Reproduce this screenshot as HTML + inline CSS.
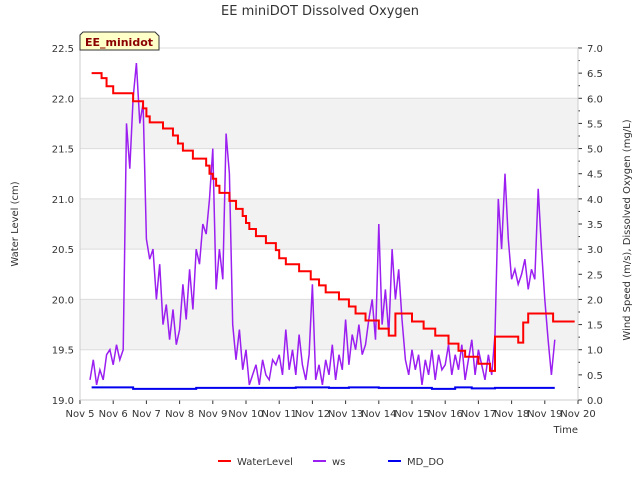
<!DOCTYPE html>
<html><head><meta charset="utf-8"><style>
body{margin:0;background:#fff;font-family:"Liberation Sans","DejaVu Sans",sans-serif}
svg text{font-family:"DejaVu Sans","Liberation Sans",sans-serif}
</style></head><body>
<svg id="c" width="640" height="480" xmlns="http://www.w3.org/2000/svg"></svg>
<script>
const wlT=[5.35,5.65,5.8,6.0,6.6,6.9,7.0,7.1,7.5,7.8,7.95,8.1,8.4,8.8,8.9,9.0,9.1,9.2,9.5,9.7,9.9,10.0,10.1,10.3,10.6,10.9,11.0,11.2,11.6,11.95,12.2,12.4,12.8,13.1,13.3,13.6,14.0,14.3,14.5,15.0,15.35,15.7,16.1,16.4,16.6,17.0,17.35,17.5,18.2,18.35,18.5,19.25,19.9];
const wlV=[22.25,22.2,22.12,22.05,21.97,21.9,21.82,21.76,21.7,21.63,21.55,21.48,21.4,21.33,21.25,21.2,21.13,21.06,20.98,20.9,20.83,20.76,20.7,20.63,20.56,20.49,20.41,20.35,20.28,20.2,20.14,20.07,20.0,19.93,19.86,19.79,19.71,19.64,19.86,19.78,19.71,19.64,19.56,19.49,19.43,19.36,19.29,19.63,19.57,19.77,19.86,19.78,19.78];
const wsStart=5.3, wsStep=0.1;
const wsV=[0.4,0.8,0.3,0.6,0.4,0.9,1.0,0.7,1.1,0.8,
1.0,5.5,4.6,6.0,6.7,5.5,5.9,3.2,2.8,3.0,
2.0,2.7,1.5,1.9,1.2,1.8,1.1,1.4,2.3,1.6,
2.6,1.8,3.0,2.7,3.5,3.3,4.0,5.0,2.2,3.0,
2.4,5.3,4.5,1.5,0.8,1.4,0.6,1.0,0.3,0.5,
0.7,0.3,0.8,0.5,0.4,0.8,0.7,0.9,0.5,1.4,
0.6,1.0,0.5,1.3,0.7,0.4,0.9,2.3,0.4,0.7,
0.3,0.8,0.5,1.1,0.4,0.9,0.6,1.6,0.7,1.3,
1.0,1.5,0.9,1.1,1.6,2.0,1.2,3.5,1.5,2.2,
1.3,3.0,2.0,2.6,1.6,0.8,0.5,1.0,0.6,0.9,
0.3,0.8,0.5,1.0,0.4,0.9,0.6,0.7,1.1,0.5,
0.9,0.6,1.1,0.4,0.8,1.2,0.5,1.0,0.7,0.4,
0.9,0.5,1.3,4.0,3.0,4.5,3.2,2.4,2.6,2.3,
2.5,2.8,2.2,2.6,2.4,4.2,3.0,2.0,1.2,0.5,1.2];
const doT=[5.35,6.6,8.5,11.5,12.5,13.1,14.0,15.6,16.3,16.8,17.5,19.3];
const doV=[0.25,0.22,0.24,0.25,0.24,0.25,0.24,0.22,0.25,0.23,0.24,0.24];
const leftTicks=[19.0,19.5,20.0,20.5,21.0,21.5,22.0,22.5];
const rightTicks=[0,0.5,1,1.5,2,2.5,3,3.5,4,4.5,5,5.5,6,6.5,7];
const xTicks=[5,6,7,8,9,10,11,12,13,14,15,16,17,18,19,20];

const X0=80,X1=578,Y0=400,Y1=48;
const sx=t=>X0+(t-5)/15*(X1-X0);
const sl=v=>Y0-(v-19)/3.5*(Y0-Y1);
const sr=v=>Y0-v/7*(Y0-Y1);
const svg=document.getElementById('c');
const NS='http://www.w3.org/2000/svg';
function mk(tag,at,txt){const e=document.createElementNS(NS,tag);for(const k in at)e.setAttribute(k,at[k]);if(txt!=null)e.textContent=txt;svg.appendChild(e);return e;}
// bands
for(let i=0;i<leftTicks.length-1;i++){if(i%2==1){
const b=mk('rect',{x:X0,y:sl(leftTicks[i+1]),width:X1-X0,height:sl(leftTicks[i])-sl(leftTicks[i+1]),fill:'#f2f2f2'});

}}
leftTicks.forEach(v=>{const g=mk('line',{x1:X0,x2:X1,y1:sl(v),y2:sl(v),stroke:'#dcdcdc','stroke-width':1});


const t=mk('text',{x:X0-6,y:sl(v)+4,'text-anchor':'end','font-size':10,fill:'#333'},v.toFixed(1));

});
for(let v=0;v<=7.001;v+=0.25){mk('line',{x1:X1,x2:X1+(Math.abs(v*2-Math.round(v*2))<0.01?4:2),y1:sr(v),y2:sr(v),stroke:'#333'});}
rightTicks.forEach(v=>{const t=mk('text',{x:X1+9,y:sr(v)+4,'font-size':10,fill:'#333'},v.toFixed(1));

});
xTicks.forEach(d=>{mk('line',{x1:sx(d),x2:sx(d),y1:Y0,y2:Y0+4,stroke:'#333'});
const t=mk('text',{x:sx(d),y:Y0+17,'text-anchor':'middle','font-size':10,fill:'#333'},'Nov '+d);

});
mk('line',{x1:X0,x2:X0,y1:Y1,y2:Y0,stroke:'#ccc'});
mk('line',{x1:X1,x2:X1,y1:Y1,y2:Y0,stroke:'#ccc'});
mk('line',{x1:X0,x2:X1,y1:Y0,y2:Y0,stroke:'#ccc'});
// ws
let p='';wsV.forEach((v,i)=>{p+=(i?'L':'M')+sx(wsStart+i*wsStep).toFixed(1)+','+sr(v).toFixed(1);});
const ws=mk('path',{d:p,fill:'none',stroke:'#9b1ff0','stroke-width':1.5});


// wl step
p='';wlT.forEach((t,i)=>{if(i==0)p+='M'+sx(t)+','+sl(wlV[0]);else p+='L'+sx(t)+','+sl(wlV[i-1])+'L'+sx(t)+','+sl(wlV[i]);});
const wl=mk('path',{d:p,fill:'none',stroke:'#ff0000','stroke-width':2});


p='';doT.forEach((t,i)=>{if(i==0)p+='M'+sx(t)+','+sr(doV[0]);else p+='L'+sx(t)+','+sr(doV[i-1])+'L'+sx(t)+','+sr(doV[i]);});
const dd=mk('path',{d:p,fill:'none',stroke:'#0000ee','stroke-width':2});


// titles
let e=mk('text',{x:320,y:15,'text-anchor':'middle','font-size':13,fill:'#333'},'EE miniDOT Dissolved Oxygen');

e=mk('text',{x:0,y:0,transform:'translate(18,224) rotate(-90)','text-anchor':'middle','font-size':10,fill:'#333'},'Water Level (cm)');

e=mk('text',{x:0,y:0,transform:'translate(630,230) rotate(-90)','text-anchor':'middle','font-size':10,fill:'#333'},'Wind Speed (m/s), Dissolved Oxygen (mg/L)');

e=mk('text',{x:578,y:433,'text-anchor':'end','font-size':10,fill:'#333'},'Time');

// badge
e=mk('path',{d:'M83,32 L155,32 L159,36 L159,50 L80,50 L80,35 Z',fill:'#ffffc8',stroke:'#333','stroke-width':1});

e=mk('text',{x:119,y:46,'text-anchor':'middle','font-size':11,'font-weight':'bold',fill:'#8b0000'},'EE_minidot');

// legend
[['WaterLevel','#ff0000',218],['ws','#9b1ff0',313],['MD_DO','#0000ee',388]].forEach(l=>{
const ln=mk('line',{x1:l[2],x2:l[2]+13,y1:461,y2:461,stroke:l[1],'stroke-width':2});


const t=mk('text',{x:l[2]+19,y:465,'font-size':10,fill:'#333'},l[0]);

});
</script>
</body></html>
